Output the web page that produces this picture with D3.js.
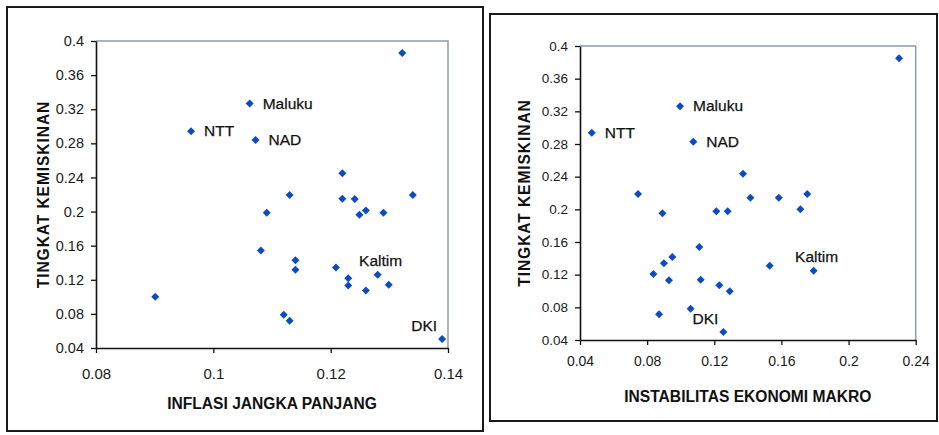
<!DOCTYPE html>
<html><head><meta charset="utf-8">
<script src="https://cdn.jsdelivr.net/npm/d3@7"></script>
<style>
body{margin:0;background:#fff}
svg{display:block}
text{font-family:"Liberation Sans",Arial,Helvetica,sans-serif}
</style></head><body>
<svg id="c" width="939" height="435"></svg>
<script>
// ---------- data ----------
const yTickValues = [0.04,0.08,0.12,0.16,0.2,0.24,0.28,0.32,0.36,0.4];
const yTickLabels = ["0.04","0.08","0.12","0.16","0.2","0.24","0.28","0.32","0.36","0.4"];
const xTickValuesLeft = [0.08,0.1,0.12,0.14];
const xTickLabelsLeft = ["0.08","0.1","0.12","0.14"];
const xTickValuesRight = [0.04,0.08,0.12,0.16,0.2,0.24];
const xTickLabelsRight = ["0.04","0.08","0.12","0.16","0.2","0.24"];

const yTitle = "TINGKAT KEMISKINAN";
const xTitleLeft = "INFLASI JANGKA PANJANG";
const xTitleRight = "INSTABILITAS EKONOMI MAKRO";

// left chart: inflasi jangka panjang vs tingkat kemiskinan
const inflasi = [0.1322,0.1062,0.0962,0.1072,0.1220,0.1130,0.1340,0.1220,0.1241,0.1091,0.1249,0.1260,0.1290,
                 0.1081,0.1140,0.1140,0.1209,0.1230,0.1230,0.1280,0.1299,0.1260,0.0901,0.1120,0.1130,0.1390];
const kemiskinanLeft = [0.386,0.3267,0.2943,0.2838,0.2448,0.2194,0.2194,0.2151,0.2147,0.1987,0.1964,0.2011,0.1987,
                 0.1543,0.1430,0.1317,0.1344,0.1219,0.1133,0.1258,0.1141,0.1075,0.1001,0.0790,0.0720,0.0505];
const namesLeft = ["","Maluku","NTT","NAD","","","","","","","","","",
                 "","","","","","","Kaltim","","","","","","DKI"];

// right chart: instabilitas ekonomi makro vs tingkat kemiskinan
const instabilitas = [0.2301,0.0996,0.0470,0.1075,0.1371,0.0746,0.1754,0.1415,0.1584,0.1713,0.0891,0.1212,0.1280,
                 0.1111,0.0950,0.0900,0.1530,0.1792,0.0837,0.0930,0.1119,0.1230,0.1292,0.0871,0.1059,0.1254];
const kemiskinanRight = [0.3849,0.3261,0.2939,0.2829,0.2437,0.2188,0.2188,0.2143,0.2143,0.2000,0.1951,0.1976,0.1976,
                 0.1539,0.1416,0.1339,0.1310,0.1249,0.1208,0.1131,0.1139,0.1069,0.0996,0.0714,0.0784,0.0498];
const namesRight = ["","Maluku","NTT","NAD","","","","","","","","","",
                 "","","","","Kaltim","","","","","","","","DKI"];

// ---------- styles / layout ----------
const markerColor = "#0a4cc4";
const labelPlacement = {
  "Maluku": {anchor:"start", dx:13, dy:5},
  "NTT":    {anchor:"start", dx:13, dy:5},
  "NAD":    {anchor:"start", dx:13, dy:5},
  "Kaltim": {anchor:"middle", dx:3, dy:-9},
  "DKI":    {anchor:"end", dx:-5, dy:-8}
};

const panels = [
  {frame:{x:7,y:7,w:476,h:424}, plot:{l:96,r:448,t:41,b:348},
   xDomain:[0.08,0.14], xTicks:xTickValuesLeft, xLabels:xTickLabelsLeft,
   xs:inflasi, ys:kemiskinanLeft, names:namesLeft, xTitle:xTitleLeft,
   yTickFont:14.5, xTickFont:15, xTickBase:31, xTitleBase:409, yTitleX:49},
  {frame:{x:490,y:14,w:447,h:407}, plot:{l:580,r:915.7,t:46,b:340},
   xDomain:[0.04,0.24], xTicks:xTickValuesRight, xLabels:xTickLabelsRight,
   xs:instabilitas, ys:kemiskinanRight, names:namesRight, xTitle:xTitleRight,
   yTickFont:13.5, xTickFont:14, xTickBase:26, xTitleBase:402, yTitleX:530}
];

const svg = d3.select("#c");
const textStroke = g => g.attr("stroke","#111").attr("stroke-width",0.25);

panels.forEach(p => {
  const g = svg.append("g");
  g.append("rect").attr("x",p.frame.x).attr("y",p.frame.y)
    .attr("width",p.frame.w).attr("height",p.frame.h)
    .attr("fill","#fff").attr("stroke","#1a1a1a").attr("stroke-width",2);

  const x = d3.scaleLinear().domain(p.xDomain).range([p.plot.l,p.plot.r]);
  const y = d3.scaleLinear().domain([0.04,0.4]).range([p.plot.b,p.plot.t]);

  // plot border (top & right gray)
  g.append("path")
    .attr("d",`M${p.plot.l},${p.plot.t}H${p.plot.r}V${p.plot.b}`)
    .attr("fill","none").attr("stroke","#8f9ca8").attr("stroke-width",1.5);

  // y axis
  const ya = g.append("g").attr("transform",`translate(${p.plot.l},0)`)
    .call(d3.axisLeft(y).tickValues(yTickValues)
      .tickFormat((d,i)=>yTickLabels[i]).tickSize(5).tickSizeOuter(0).tickPadding(7));
  ya.select(".domain").attr("stroke","#111").attr("stroke-width",1.6);
  ya.selectAll(".tick line").attr("stroke","#111").attr("stroke-width",1.3);
  ya.selectAll(".tick text").attr("fill","#1a1a1a").style("font-size",p.yTickFont+"px")
    .style("font-family","'Liberation Sans',Arial,sans-serif");

  // x axis
  const xa = g.append("g").attr("transform",`translate(0,${p.plot.b})`)
    .call(d3.axisBottom(x).tickValues(p.xTicks)
      .tickFormat((d,i)=>p.xLabels[i]).tickSize(5).tickSizeOuter(0));
  xa.select(".domain").attr("stroke","#111").attr("stroke-width",1.6);
  xa.selectAll(".tick line").attr("stroke","#111").attr("stroke-width",1.3);
  xa.selectAll(".tick text").attr("fill","#1a1a1a").attr("y",p.xTickBase).attr("dy",null)
    .style("font-size",p.xTickFont+"px")
    .style("font-family","'Liberation Sans',Arial,sans-serif");

  // markers
  const pts = p.xs.map((v,i)=>({x:v,y:p.ys[i],name:p.names[i]}));
  g.selectAll("path.pt").data(pts).join("path").attr("class","pt")
    .attr("d",d3.symbol(d3.symbolSquare,32))
    .attr("transform",d=>`translate(${x(d.x)},${y(d.y)}) rotate(45)`)
    .attr("fill",markerColor);

  // point labels
  g.selectAll("text.lbl").data(pts.filter(d=>d.name)).join("text").attr("class","lbl")
    .attr("x",d=>x(d.x)+labelPlacement[d.name].dx)
    .attr("y",d=>y(d.y)+labelPlacement[d.name].dy)
    .attr("text-anchor",d=>labelPlacement[d.name].anchor)
    .attr("fill","#111").style("font-size","15.5px")
    .call(textStroke)
    .text(d=>d.name);

  // axis titles
  g.append("text").attr("x",(p.plot.l+p.plot.r)/2).attr("y",p.xTitleBase)
    .attr("text-anchor","middle").attr("fill","#111")
    .style("font-size","15.6px").style("font-weight","bold")
    .text(p.xTitle);
  g.append("text")
    .attr("transform",`translate(${p.yTitleX},${(p.plot.t+p.plot.b)/2}) rotate(-90)`)
    .attr("text-anchor","middle").attr("fill","#111")
    .style("font-size","15.6px").style("font-weight","bold").style("letter-spacing","0.9px")
    .text(yTitle);
});
</script>
</body></html>
